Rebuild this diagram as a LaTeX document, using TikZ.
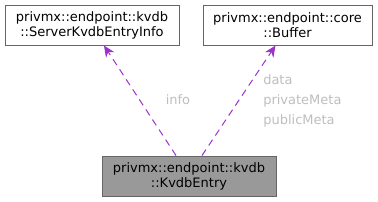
\documentclass[tikz,border=0pt]{standalone}
\usepackage{fontspec}
\setmainfont{DejaVu Sans}
\definecolor{edgepurple}{RGB}{154, 50, 205}
\definecolor{boxgray}{RGB}{153, 153, 153}
\definecolor{framegray}{RGB}{102, 102, 102}
\definecolor{labelgray}{RGB}{190, 190, 190}
\usepackage{tikz}
\usetikzlibrary{arrows.meta, positioning, calc}

\begin{document}
\begin{tikzpicture}[x=0.75pt, y=-0.75pt,
    every node/.style={font=\fontsize{9.75}{11.25}\selectfont, align=center, inner sep=0pt},
    classbox/.style={draw=framegray, line width=0.75pt, fill=white, minimum height=30pt},
    dep/.style={edgepurple, line width=0.75pt, dash pattern=on 5.25pt off 3.75pt, -{Stealth[length=8.5pt, width=7.5pt]}},
    rolelabel/.style={text=labelgray}]
  \useasboundingbox (0,0) rectangle (378,201);
  \node[classbox, minimum width=130.5pt] (info) at (92,25) {privmx::endpoint::kvdb\\::ServerKvdbEntryInfo};
  \node[classbox, minimum width=126.75pt] (buffer) at (287.5,25) {privmx::endpoint::core\\::Buffer};
  \node[classbox, fill=boxgray, minimum width=130.5pt] (entry) at (189,176) {privmx::endpoint::kvdb\\::KvdbEntry};
  % usage edges
  \draw[dep] ($(entry.north)+(-13,0)$) -- ($(info.south)+(12,0)$);
  \draw[dep] ($(entry.north)+(13,0)$) -- ($(buffer.south)+(-12,0)$);
  \node[rolelabel] (infolabel) at (178,100) {info};
  \node[rolelabel, anchor=west, align=left, font=\fontsize{9.75}{15}\selectfont] (bufferlabel) at (263,101) {data\\privateMeta\\publicMeta};
\end{tikzpicture}
\end{document}
